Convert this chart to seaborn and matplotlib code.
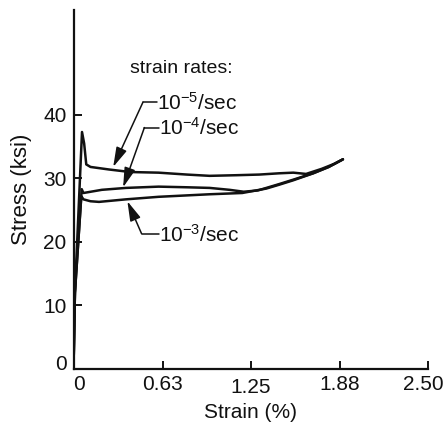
import matplotlib
matplotlib.use("Agg")
import matplotlib.pyplot as plt
import matplotlib.transforms as mtransforms
import numpy as np
import pandas as pd
import seaborn as sns

# Stress-strain curves at three strain rates (strain in %, stress in ksi)
strain_1e5 = [0.0, 0.01, 0.06, 0.075, 0.09, 0.12, 0.25, 0.40, 0.60, 0.80, 0.96,
              1.15, 1.31, 1.45, 1.55, 1.64, 1.75, 1.84, 1.90]
stress_1e5 = [0.0, 12.0, 37.3, 35.5, 32.2, 31.8, 31.4, 31.0, 30.9, 30.6, 30.4,
              30.5, 30.6, 30.8, 30.9, 30.7, 31.5, 32.3, 33.0]

strain_1e4 = [0.0, 0.01, 0.058, 0.07, 0.20, 0.37, 0.60, 0.80, 0.96, 1.10, 1.20,
              1.30, 1.36, 1.45, 1.55, 1.69, 1.80, 1.90]
stress_1e4 = [0.0, 12.0, 28.3, 27.7, 28.2, 28.5, 28.7, 28.6, 28.5, 28.2, 27.9,
              28.1, 28.5, 29.1, 29.8, 30.8, 31.8, 33.0]

strain_1e3 = [0.0, 0.01, 0.055, 0.07, 0.12, 0.18, 0.37, 0.60, 0.96, 1.19, 1.36,
              1.45, 1.55, 1.69, 1.80, 1.90]
stress_1e3 = [0.0, 12.0, 27.2, 26.7, 26.4, 26.3, 26.7, 27.1, 27.5, 27.7, 28.4,
              29.0, 29.7, 30.8, 31.8, 33.0]

rate_labels = ["10$^{-5}$/sec", "10$^{-4}$/sec", "10$^{-3}$/sec"]

x_ticks = [0, 0.63, 1.25, 1.88, 2.50]
x_tick_labels = ["0", "0.63", "1.25", "1.88", "2.50"]
y_ticks = [0, 10, 20, 30, 40]

# Leader arrows: (label position, bend point, arrow tip) in data units
label_pos = [(0.59, 41.9), (0.60, 38.0), (0.60, 21.1)]
bend_pos = [(0.49, 42.0), (0.50, 38.0), (0.48, 21.3)]
tip_pos = [(0.28, 31.8), (0.35, 28.6), (0.38, 26.4)]

frames = []
for lab, xs, ys in zip(rate_labels,
                       [strain_1e5, strain_1e4, strain_1e3],
                       [stress_1e5, stress_1e4, stress_1e3]):
    frames.append(pd.DataFrame({"strain": xs, "stress": ys, "rate": lab}))
df = pd.concat(frames, ignore_index=True)

sns.set_theme(style="white")
plt.rcParams["font.family"] = ["Liberation Sans", "DejaVu Sans"]
plt.rcParams["mathtext.default"] = "regular"
fs = 15

ink = "#111111"
fig = plt.figure(figsize=(4.47, 4.30), dpi=100)
ax = fig.add_axes([73.5 / 447, 1 - 369 / 430, (428 - 73.5) / 447, (369 - 10) / 430])

sns.lineplot(data=df, x="strain", y="stress", hue="rate", sort=False,
             estimator=None, palette=[ink] * 3, linewidth=1.8, legend=False, ax=ax)

ax.set_xlim(0, 2.5)
ax.set_ylim(0, 56.5)
ax.set_xticks(x_ticks)
ax.set_xticklabels(x_tick_labels)
ax.set_yticks(y_ticks)
ax.set_yticklabels([str(v) for v in y_ticks])
ax.tick_params(axis="both", direction="in", length=6, width=1.4, colors=ink,
               labelsize=fs, bottom=True, left=True)
ax.tick_params(axis="x", pad=4)
ax.tick_params(axis="y", pad=5)

# small per-label nudges of the tick text
def nudge(label, dx_px, dy_px):
    off = mtransforms.ScaledTranslation(dx_px / 100, dy_px / 100, fig.dpi_scale_trans)
    label.set_transform(label.get_transform() + off)

xl = ax.get_xticklabels()
nudge(xl[0], 5, 0)
nudge(xl[2], 0, -3)
nudge(xl[4], -5, 0)
yl = ax.get_yticklabels()
nudge(yl[0], 0, 6)

for side in ["top", "right"]:
    ax.spines[side].set_visible(False)
for side in ["left", "bottom"]:
    ax.spines[side].set_color(ink)
    ax.spines[side].set_linewidth(1.6)

ax.set_xlabel("Strain (%)", fontsize=fs, color=ink, labelpad=5)
ax.set_ylabel("Stress (ksi)", fontsize=16, color=ink, labelpad=8)

ax.text(0.76, 47.3, "strain rates:", fontsize=14, color=ink, ha="center", va="center")

for lab, tp, bp, ap in zip(rate_labels, label_pos, bend_pos, tip_pos):
    ax.text(tp[0], tp[1], lab, fontsize=fs, color=ink, ha="left", va="center")
    ax.plot([bp[0], tp[0]], [bp[1], bp[1]], color=ink, lw=1.1)
    ax.annotate("", xy=ap, xytext=bp,
                arrowprops=dict(arrowstyle="-|>,head_length=1.0,head_width=0.28",
                                color=ink, lw=1.1, shrinkA=0, shrinkB=0))

fig.savefig("out.png", dpi=100)
